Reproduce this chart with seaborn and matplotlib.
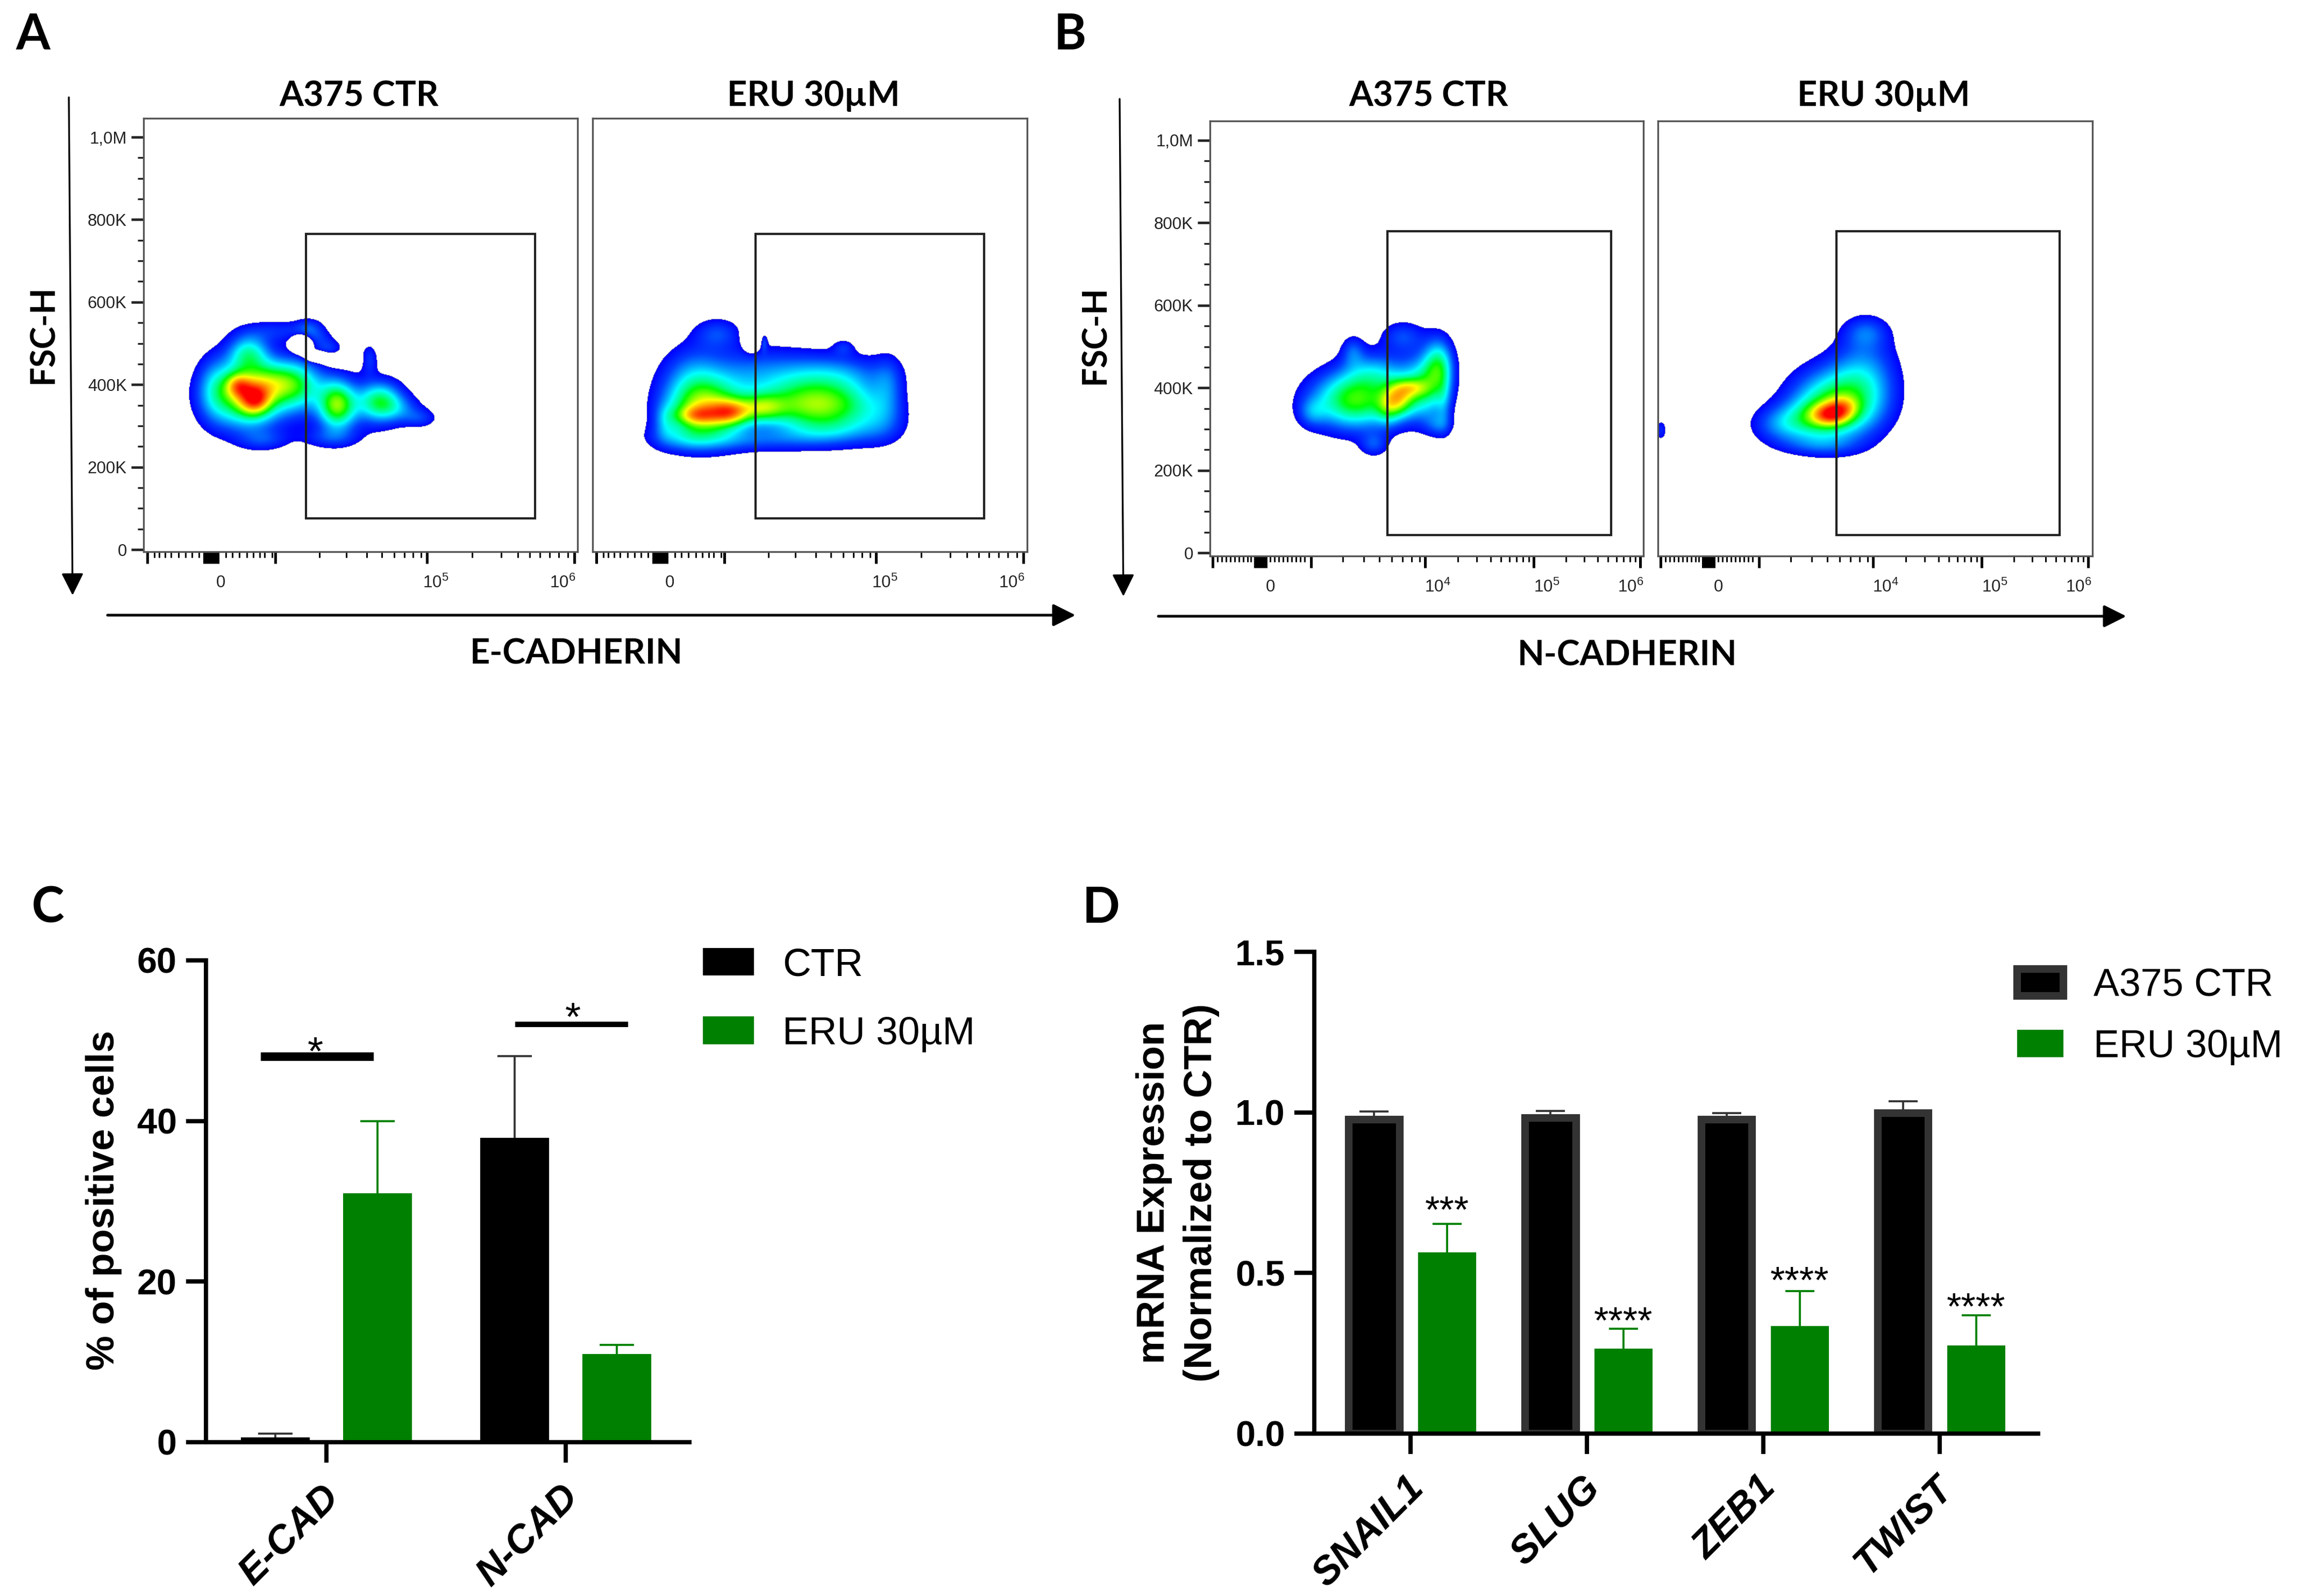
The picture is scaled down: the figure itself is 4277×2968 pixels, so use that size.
import numpy as np
import pandas as pd
import seaborn as sns
import matplotlib.pyplot as plt
from matplotlib.colors import LinearSegmentedColormap
from matplotlib.patches import Rectangle
from matplotlib.transforms import ScaledTranslation

# panel C data
cad_groups = ["E-CAD", "N-CAD"]
cad_ctr = [0.6, 37.9]
cad_eru = [31.0, 11.0]
cad_ctr_err = [0.5, 10.2]
cad_eru_err = [9.0, 1.1]

# panel D data (CTR heights read at the middle of the grey outline)
genes = ["SNAIL1", "SLUG", "ZEB1", "TWIST"]
mrna_ctr = [0.978, 0.983, 0.978, 0.997]
mrna_eru = [0.564, 0.265, 0.335, 0.275]
mrna_ctr_err = [0.025, 0.022, 0.020, 0.037]
mrna_eru_err = [0.089, 0.062, 0.109, 0.093]
mrna_stars = ["***", "****", "****", "****"]
mrna_star_y = [0.657, 0.313, 0.439, 0.357]

# flow panels: density peaks
# (channel position, FSC-H in K, spread x, spread y, height)
peaks_a1 = [
    (190, 375, 48, 55, .62), (175, 398, 16, 20, .28), (207, 362, 20, 26, .38),
    (250, 405, 40, 36, .30), (290, 395, 34, 46, .28), (195, 478, 26, 30, .32),
    (360, 350, 24, 40, .55), (440, 358, 28, 32, .42), (400, 350, 60, 55, .08),
    (250, 530, 50, 20, .12), (130, 390, 22, 55, .14), (308, 538, 18, 16, .13),
    (343, 490, 18, 16, .13), (325, 515, 16, 14, .08), (420, 462, 11, 26, .13),
    (515, 318, 22, 16, .12), (480, 340, 28, 22, .12), (224, 265, 32, 18, .12),
    (345, 270, 38, 18, .12), (293, 498, 11, 13, -.40), (322, 468, 14, 8, -.30),
    (365, 458, 22, 10, -.15),
]
peaks_a2 = [
    (210, 335, 50, 50, .60), (257, 332, 26, 22, .42), (192, 325, 28, 16, .25),
    (316, 343, 30, 24, .35), (401, 349, 60, 45, .52), (480, 350, 50, 50, .25),
    (232, 525, 30, 26, .15), (185, 410, 38, 60, .16), (300, 420, 90, 50, .20),
    (450, 430, 70, 32, .14), (467, 490, 14, 14, .10), (550, 400, 20, 50, .14),
    (540, 310, 32, 40, .12), (165, 270, 45, 24, .14), (300, 265, 80, 20, .14),
    (440, 285, 60, 24, .12), (295, 515, 10, 22, -.25), (319, 501, 4, 14, .12),
    (135, 310, 14, 30, .12),
]
peaks_b1 = [
    (351, 373, 20, 30, .42), (375, 400, 22, 16, .22), (330, 350, 16, 30, .18),
    (270, 370, 55, 48, .56), (400, 400, 30, 52, .42), (425, 450, 18, 40, .20),
    (266, 490, 15, 26, .15), (358, 525, 28, 26, .16), (310, 440, 40, 35, .20),
    (425, 470, 20, 45, .16), (435, 370, 10, 50, .12), (305, 262, 18, 20, .15),
    (190, 340, 18, 24, .14), (425, 310, 18, 20, .14),
]
peaks_b2 = [
    (322, 335, 24, 18, .36), (345, 355, 20, 18, .18), (295, 325, 40, 32, .22),
    (330, 360, 55, 58, .50), (387, 535, 28, 26, .14), (385, 430, 42, 75, .22),
    (230, 310, 38, 32, .20), (300, 260, 48, 18, .12), (5, 297, 8, 18, .12),
]

panel_names = ["A375 CTR", "ERU 30µM"]
gate_y = {"E": (75, 765), "N": (43, 780)}
y_major = [0, 200, 400, 600, 800, 1000]
y_major_labels = ["0", "200K", "400K", "600K", "800K", "1,0M"]
y_minor = [50, 100, 150, 250, 300, 350, 450, 500, 550, 650, 700, 750, 850, 900, 950]
# x tick channels, e-cadherin and n-cadherin scales
x_major_e = [7, 113, 118, 123, 128, 133, 138, 245, 527, 801]
x_minor_e = [20, 29, 40, 51, 65, 78, 90, 103, 153, 165, 178, 192, 204, 216, 225, 239,
             327, 377, 415, 443, 466, 485, 501, 516, 611, 665, 696, 718, 737, 755, 772, 789]
x_major_n = [5, 84, 89, 94, 99, 104, 188, 400, 602, 800]
x_minor_n = [14, 22, 30, 38, 46, 54, 62, 70, 76, 112, 120, 128, 136, 144, 152, 160, 168, 176,
             247, 286, 315, 338, 358, 375, 390, 461, 496, 522, 541, 557, 570, 582, 593,
             662, 696, 721, 740, 756, 769, 781, 791]

W, H = 4277, 2968
green = "#008000"
narrow = ["Liberation Sans Narrow", "Liberation Sans"]

sns.set_theme(style="ticks")
plt.rcParams["font.family"] = ["Liberation Sans", "DejaVu Sans"]
plt.rcParams["text.color"] = "black"
plt.rcParams["xtick.labelcolor"] = "black"
plt.rcParams["ytick.labelcolor"] = "black"
flow_cmap = LinearSegmentedColormap.from_list(
    "flow",
    [(0, "#0000ff"), (.1, "#0040ff"), (.22, "#00b0ff"), (.3, "#00ffff"), (.42, "#00ff80"),
     (.5, "#00ff00"), (.7, "#ffff00"), (.85, "#ff8000"), (1, "#ff0000")],
)

fig = plt.figure(figsize=(W / 300, H / 300), dpi=300)


def axes_px(left, top, right, bottom):
    return fig.add_axes([left / W, 1 - bottom / H, (right - left) / W, (bottom - top) / H])


def flow_panel(box, zero_y, peaks, gate, y_range, x_major, x_minor, x_labels, show_y):
    ax = axes_px(*box)
    width = box[2] - box[0]
    xx, yy = np.meshgrid(np.linspace(0, width, 600), np.linspace(-10, 1050, 600))
    z = np.zeros_like(xx)
    for x0, y0, sx, sy, amp in peaks:
        z += amp * np.exp(-((xx - x0) / sx) ** 2 / 2 - ((yy - y0) / sy) ** 2 / 2)
    ax.imshow(np.ma.masked_less(z, 0.07), extent=(0, width, -10, 1050), origin="lower", aspect="auto",
              cmap=flow_cmap, vmin=0.07, vmax=1, interpolation="bilinear", zorder=1)
    ax.set_xlim(0, width)
    # 0.767 px per K of FSC-H
    ax.set_ylim((zero_y - box[3]) / 0.767, (zero_y - box[1]) / 0.767)
    ax.add_patch(Rectangle((gate[0], y_range[0]), gate[1] - gate[0], y_range[1] - y_range[0],
                           fill=False, ec="#222222", lw=1.0, zorder=3))
    for s in ax.spines.values():
        s.set_color("#555555")
        s.set_linewidth(0.8)
    if show_y:
        ax.set_yticks(y_major)
        ax.set_yticklabels(y_major_labels, fontsize=7.5, family=narrow, color="#222222")
        ax.set_yticks(y_minor, minor=True)
    else:
        ax.set_yticks([])
    ax.set_xticks(x_major)
    ax.set_xticklabels([])
    ax.set_xticks(x_minor, minor=True)
    ax.tick_params(axis="x", which="major", length=5.3, width=1.2, color="black")
    ax.tick_params(axis="x", which="minor", length=2.6, width=0.7, color="black")
    ax.tick_params(axis="y", which="major", length=5.5, width=1.1, color="#222222", pad=2)
    ax.tick_params(axis="y", which="minor", length=2.6, width=0.8, color="#222222")
    for pos, label in x_labels:
        ax.annotate(label, (pos, 0), xycoords=("data", "axes fraction"), xytext=(0, -14), textcoords="offset points",
                    ha="center", va="center", fontsize=7.5, color="#222222", family=narrow)
    ax.grid(False)
    return ax


def arrow(start, end, lw):
    canvas.annotate("", xy=end, xytext=start,
                    arrowprops=dict(arrowstyle="-|>,head_length=0.5,head_width=0.25", mutation_scale=17,
                                    lw=lw, color="black", shrinkA=0, shrinkB=0))


def bar_panel(box, names, ctr, eru, ctr_name, width, gap, xlim, ylim, yticks, ytick_labels, err_ctr, err_eru, cap):
    ax = axes_px(*box)
    df = pd.DataFrame({
        "group": names + names,
        "value": ctr + eru,
        "treat": [ctr_name] * len(names) + ["ERU 30µM"] * len(names),
    })
    sns.barplot(data=df, x="group", y="value", hue="treat", palette=["black", green], saturation=1,
                width=width, gap=gap, errorbar=None, legend=False, linewidth=0, ax=ax)
    for bars, values, errs, col in zip(ax.containers, [ctr, eru], [err_ctr, err_eru], ["#333333", green]):
        centers = [b.get_x() + b.get_width() / 2 for b in bars]
        eb = ax.errorbar(centers, values, yerr=[np.zeros(len(errs)), errs], fmt="none", ecolor=col,
                         elinewidth=0.9, capsize=cap, capthick=0.9, zorder=1)
        eb[1][0].set_visible(False)  # only the upper cap
    ax.set_xlim(*xlim)
    ax.set_ylim(*ylim)
    ax.set_yticks(yticks)
    ax.set_yticklabels(ytick_labels, fontsize=16, fontweight="bold")
    ax.set_xlabel("")
    ax.set_ylabel("")
    ax.set_xticks(range(len(names)))
    ax.set_xticklabels(names, rotation=45, ha="right", rotation_mode="anchor",
                       fontsize=17.5, fontweight="bold", fontstyle="italic")
    ax.tick_params(axis="x", length=9, width=1.9, color="black", pad=7)
    ax.tick_params(axis="y", length=9, width=1.9, color="black", pad=4)
    shift = ScaledTranslation(-2.6 / 72, 0, fig.dpi_scale_trans)
    for lab in ax.get_xticklabels():
        lab.set_transform(lab.get_transform() + shift)
    ax.patch.set_alpha(0)
    sns.despine(ax=ax)
    for s in ["left", "bottom"]:
        ax.spines[s].set_linewidth(1.9)
        ax.spines[s].set_color("black")
    return ax


# flow cytometry panels
canvas = fig.add_axes([0, 0, 1, 1], zorder=-1)
canvas.set_xlim(0, W)
canvas.set_ylim(H, 0)
canvas.axis("off")

e_labels = [(143, "0"), (543, "$\\mathregular{10^5}$"), (779, "$\\mathregular{10^6}$")]
n_labels = [(112, "0"), (423, "$\\mathregular{10^4}$"), (626, "$\\mathregular{10^5}$"), (782, "$\\mathregular{10^6}$")]

flow_panel((267, 220, 1074, 1026), 1022, peaks_a1, (302, 728), gate_y["E"], x_major_e, x_minor_e, e_labels, True)
flow_panel((1102, 220, 1910, 1026), 1022, peaks_a2, (303, 728), gate_y["E"], x_major_e, x_minor_e, e_labels, False)
flow_panel((2250, 225, 3056, 1034), 1028, peaks_b1, (330, 746), gate_y["N"], x_major_n, x_minor_n, n_labels, True)
flow_panel((3083, 225, 3891, 1034), 1028, peaks_b2, (332, 747), gate_y["N"], x_major_n, x_minor_n, n_labels, False)

title_font = dict(family="Lato", fontweight="bold", ha="center", va="center")
for x, name in zip([668, 1513, 2657, 3503], panel_names * 2):
    canvas.text(x, 179, name, fontsize=15.5, **title_font)
for x, y, letter in [(61, 66, "A"), (1990, 66, "B"), (89, 1690, "C"), (2048, 1690, "D")]:
    canvas.text(x, y, letter, fontsize=22, **title_font)
for x, y in [(81, 622), (2037, 623)]:
    canvas.text(x, y, "FSC-H", fontsize=15, rotation=90, **title_font)
canvas.text(1072, 1216, "E-CADHERIN", fontsize=15.5, **title_font)
canvas.text(3026, 1219, "N-CADHERIN", fontsize=15.5, **title_font)
arrow((128, 181), (135, 1107), 0.8)
arrow((2082, 184), (2089, 1109), 0.8)
arrow((200, 1144), (2000, 1144), 1.2)
arrow((2154, 1146), (3954, 1146), 1.2)

# panel C
ax_c = bar_panel((383, 1786, 1282, 2682), cad_groups, cad_ctr, cad_eru, "CTR", 0.854, 0.33, (-0.503, 1.517),
                 (0, 60), [0, 20, 40, 60], ["0", "20", "40", "60"], cad_ctr_err, cad_eru_err, 7.7)
ax_c.plot([-0.274, 0.198], [48, 48], color="black", lw=3.8, solid_capstyle="butt")
ax_c.plot([0.789, 1.261], [52, 52], color="black", lw=2.4, solid_capstyle="butt")
ax_c.text(-0.045, 47.0, "*", ha="center", va="baseline", fontsize=18)
ax_c.text(1.03, 51.3, "*", ha="center", va="baseline", fontsize=18)
canvas.text(193, 2232, "% of positive cells", fontsize=17.5, fontweight="bold", rotation=90, ha="center", va="center")
ax_c.legend(handles=[b[0] for b in ax_c.containers], labels=["CTR", "ERU 30µM"], loc="upper left",
            bbox_to_anchor=(1307 / W, 1 - 1762 / H), bbox_transform=fig.transFigure, frameon=False, fontsize=17.5,
            borderaxespad=0, borderpad=0, handlelength=1.3, handleheight=0.7, handletextpad=0.73, labelspacing=0.83)

# panel D
ax_d = bar_panel((2444, 1770, 3790, 2666), genes, mrna_ctr, mrna_eru, "A375 CTR", 0.829, 0.2, (-0.5457, 3.558),
                 (0, 1.5), [0, 0.5, 1.0, 1.5], ["0.0", "0.5", "1.0", "1.5"], mrna_ctr_err, mrna_eru_err, 6.5)
for bar in ax_d.containers[0]:
    # keep the thick outline inside the bar footprint
    bar.set_x(bar.get_x() + 0.021)
    bar.set_width(bar.get_width() - 0.042)
    bar.set_edgecolor("#333333")
    bar.set_linewidth(3.4)
for bar, s, y in zip(ax_d.containers[1], mrna_stars, mrna_star_y):
    ax_d.text(bar.get_x() + bar.get_width() / 2, y, s, ha="center", va="baseline", fontsize=16.8)
canvas.text(2190, 2218, "mRNA Expression\n(Normalized to CTR)", fontsize=17.6, fontweight="bold", rotation=90,
            ha="center", va="center", linespacing=1.39)
ax_d.legend(handles=[b[0] for b in ax_d.containers], labels=["A375 CTR", "ERU 30µM"], loc="upper left",
            bbox_to_anchor=(3751 / W, 1 - 1800 / H), bbox_transform=fig.transFigure, frameon=False, fontsize=17.2,
            borderaxespad=0, borderpad=0, handlelength=1.2, handleheight=0.7, handletextpad=0.78, labelspacing=0.65)

fig.savefig("out.png", dpi=300, facecolor="white")
